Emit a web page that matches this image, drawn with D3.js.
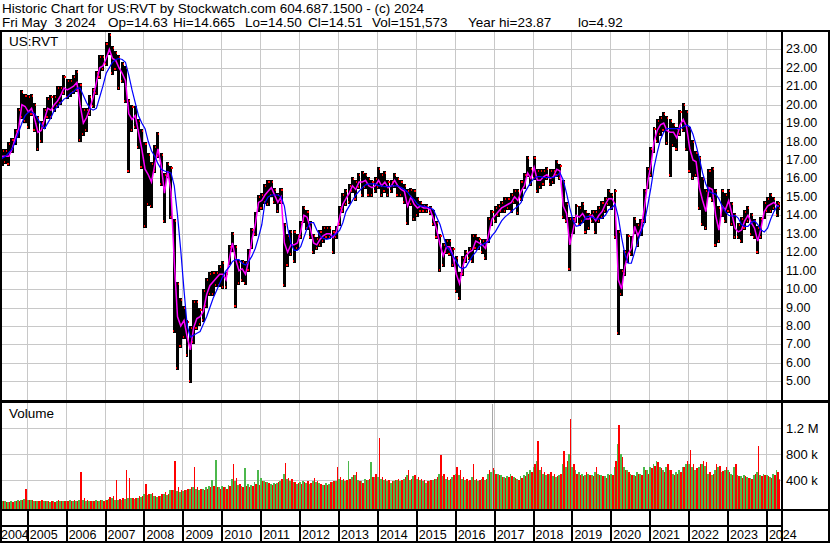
<!DOCTYPE html>
<html>
<head>
<meta charset="utf-8">
<script src="https://cdn.jsdelivr.net/npm/d3@7"></script>
<style>
  body { margin: 0; background: #fff; }
  svg { display: block; font-family: "Liberation Sans", Arial, sans-serif; }
</style>
</head>
<body>
<svg width="830" height="543"></svg>
<script>
// monthly values, Apr 2004 .. May 2024 (242 months)
var years = d3.range(2004, 2025);
var priceTicks = d3.range(5, 24);
var volTicks = [400000, 800000, 1200000];
var volTickLabels = ["400 k", "800 k", "1.2 M"];
var title = "Historic Chart for US:RVT by Stockwatch.com 604.687.1500 - (c) 2024";
var quoteFields = ["Fri May  3 2024", "Op=14.63", "Hi=14.665", "Lo=14.50", "Cl=14.51",
                   "Vol=151,573", "Year hi=23.87", "lo=4.92"];

var hi = [
  17.1, 17.6, 17.6, 18.0, 18.2, 18.7, 19.8, 20.8, 20.6,
  20.5, 20.6, 20.1, 19.4, 19.1, 19.8, 20.4, 20.5, 20.5, 21.0, 21.0, 21.6,
  21.4, 21.4, 21.6, 21.9, 21.2, 19.8, 19.8, 20.5, 20.9, 21.8, 22.7, 22.7,
  23.4, 23.87, 23.2, 22.9, 22.7, 22.3, 22.1, 20.3, 20.0, 19.9, 19.2, 18.7,
  18.0, 17.4, 16.9, 17.8, 18.5, 17.4, 16.3, 16.9, 16.7, 13.8, 10.4, 9.5,
  9.1, 8.3, 8.0, 9.4, 9.4, 9.0, 10.0, 10.6, 10.9, 11.0, 11.0, 11.3,
  11.5, 10.9, 12.4, 13.1, 12.4, 11.6, 11.6, 11.5, 12.2, 13.3, 14.2, 15.1,
  15.2, 15.7, 15.9, 15.9, 15.5, 15.2, 15.5, 13.6, 13.0, 13.2, 13.2, 13.0,
  13.7, 14.5, 14.3, 13.7, 13.0, 12.8, 13.2, 13.4, 13.4, 13.4, 13.2, 13.4,
  14.5, 15.2, 15.4, 15.7, 16.1, 15.9, 16.3, 16.4, 16.3, 16.1, 15.9, 16.1,
  16.6, 16.3, 16.4, 15.9, 15.9, 16.3, 16.1, 15.9, 15.7, 15.4, 15.5, 15.4,
  15.0, 14.8, 14.6, 14.6, 14.5, 14.3, 13.7, 13.0, 12.5, 12.7, 12.7, 12.3,
  11.8, 10.9, 11.8, 12.1, 12.3, 13.0, 13.0, 12.8, 12.7, 12.7, 13.9, 14.3,
  14.5, 14.6, 14.8, 15.0, 15.0, 15.2, 15.4, 15.4, 15.9, 16.3, 17.2, 16.6,
  17.2, 16.5, 16.5, 16.5, 16.6, 16.5, 16.5, 17.0, 16.8, 15.9, 14.7, 13.9,
  13.9, 14.6, 14.5, 14.7, 14.3, 14.1, 14.3, 14.3, 14.5, 14.8, 15.0, 15.4,
  15.2, 15.4, 13.2, 11.1, 12.1, 13.0, 12.9, 13.9, 13.6, 13.8, 15.4, 16.6,
  17.7, 18.8, 19.2, 19.4, 19.6, 19.4, 19.2, 19.0, 18.8, 19.7, 20.1, 19.7,
  18.8, 18.1, 17.5, 17.2, 16.1, 15.4, 16.5, 16.6, 15.4, 14.5, 15.4, 15.2,
  15.4, 14.7, 14.1, 13.6, 13.9, 14.3, 14.5, 14.1, 13.8, 13.4, 13.9, 14.8,
  15.0, 15.2, 15.0, 14.8, 14.7
];
var lo = [
  15.5, 16.7, 16.8, 16.7, 17.4, 17.8, 18.2, 19.2, 19.0,
  18.7, 19.4, 18.5, 17.5, 17.9, 18.7, 19.2, 19.2, 19.6, 19.8, 20.0, 20.5,
  20.3, 20.4, 20.6, 20.7, 18.0, 18.3, 18.5, 19.4, 19.8, 20.5, 21.4, 21.8,
  22.1, 22.7, 21.6, 21.8, 20.8, 21.2, 20.1, 16.3, 18.5, 18.7, 17.6, 16.5,
  13.3, 14.5, 14.4, 16.3, 17.1, 15.6, 13.6, 16.0, 13.8, 7.6, 5.6, 6.8,
  7.3, 6.3, 4.92, 7.0, 7.8, 8.0, 8.2, 9.0, 9.6, 9.6, 10.1, 10.1,
  10.0, 10.0, 11.3, 12.0, 9.0, 10.2, 10.4, 10.2, 10.9, 12.2, 12.9, 14.2,
  14.3, 14.6, 14.5, 15.0, 14.6, 14.1, 14.6, 10.1, 11.2, 11.8, 11.4, 12.1,
  12.7, 13.6, 13.2, 12.7, 11.9, 12.1, 12.3, 12.5, 12.7, 12.7, 11.9, 12.7,
  13.4, 14.1, 14.5, 14.6, 15.2, 14.8, 15.4, 15.0, 15.4, 15.0, 15.0, 15.2,
  15.4, 15.0, 15.2, 15.0, 15.2, 15.5, 15.0, 15.0, 14.6, 13.5, 14.5, 13.7,
  13.9, 14.1, 14.1, 14.1, 14.0, 13.4, 12.7, 10.9, 11.2, 11.9, 11.8, 11.2,
  9.8, 9.4, 10.7, 11.4, 11.6, 11.4, 12.1, 12.1, 11.9, 11.6, 12.5, 13.4,
  13.6, 13.9, 14.1, 14.1, 14.3, 14.1, 14.6, 14.0, 14.8, 15.4, 16.1, 15.6,
  15.9, 15.2, 15.4, 15.6, 15.9, 15.6, 15.7, 16.1, 15.9, 13.8, 13.6, 11.0,
  13.0, 13.6, 13.4, 13.6, 13.0, 13.2, 13.6, 13.0, 13.6, 13.8, 14.1, 14.5,
  14.3, 12.7, 7.5, 9.6, 10.7, 11.4, 11.8, 13.0, 12.3, 12.9, 13.6, 15.4,
  16.1, 17.4, 17.9, 18.3, 18.5, 17.8, 16.1, 17.7, 17.5, 18.3, 18.5, 17.5,
  16.3, 15.9, 16.1, 14.3, 13.4, 13.2, 15.0, 14.7, 12.3, 12.5, 13.9, 13.6,
  14.1, 13.4, 12.7, 12.7, 12.5, 13.2, 13.6, 12.9, 12.7, 11.9, 12.7, 13.8,
  14.1, 14.1, 14.3, 13.9, 14.3
];
var avgShort = [
  16.7, 17.2, 17.2, 17.2, 17.6, 18.2, 18.7, 20.0, 19.9,
  19.6, 19.8, 19.2, 18.5, 18.6, 19.2, 19.8, 19.7, 20.0, 20.2, 20.5, 20.9,
  20.8, 20.9, 21.0, 21.2, 20.0, 19.0, 19.3, 19.8, 20.4, 21.2, 22.0, 22.1,
  22.5, 23.0, 22.5, 22.4, 22.0, 21.7, 21.3, 19.5, 19.2, 19.4, 18.5, 17.6,
  16.5, 16.2, 15.8, 16.7, 17.6, 16.7, 15.2, 16.4, 15.3, 11.5, 8.5, 8.0,
  8.3, 7.4, 6.7, 7.9, 8.4, 8.5, 8.8, 9.7, 10.2, 10.4, 10.6, 10.8,
  10.8, 10.5, 11.6, 12.5, 11.6, 11.0, 11.1, 10.8, 11.6, 12.7, 13.5, 14.7,
  14.8, 15.1, 15.3, 15.5, 15.1, 14.7, 15.0, 12.5, 12.0, 12.4, 12.4, 12.5,
  13.1, 14.0, 13.9, 13.3, 12.5, 12.4, 12.7, 12.9, 13.0, 13.0, 12.8, 13.1,
  13.9, 14.6, 14.9, 15.2, 15.6, 15.4, 15.8, 15.8, 15.9, 15.6, 15.5, 15.6,
  15.9, 15.6, 15.8, 15.5, 15.6, 15.9, 15.6, 15.4, 15.3, 14.5, 15.0, 14.6,
  14.4, 14.5, 14.4, 14.4, 14.3, 13.8, 13.2, 12.4, 11.8, 12.3, 12.3, 11.8,
  10.8, 10.3, 11.2, 11.8, 12.0, 12.1, 12.6, 12.5, 12.4, 12.2, 13.0, 13.8,
  14.0, 14.2, 14.4, 14.5, 14.6, 14.7, 15.0, 14.8, 15.3, 15.6, 16.3, 16.0,
  16.6, 15.9, 15.9, 16.1, 16.2, 16.0, 16.1, 16.5, 16.4, 14.5, 14.1, 12.4,
  13.2, 14.0, 13.9, 14.1, 13.8, 13.8, 14.0, 13.7, 14.0, 14.2, 14.6, 14.9,
  14.9, 14.6, 10.5, 10.0, 11.2, 11.9, 12.2, 13.4, 12.9, 13.3, 14.4, 15.8,
  16.7, 18.0, 18.6, 18.9, 19.0, 18.6, 18.5, 18.5, 18.2, 18.9, 19.2, 18.8,
  17.6, 17.0, 16.9, 15.5, 14.8, 14.2, 15.5, 15.4, 14.0, 13.2, 14.5, 14.3,
  14.8, 14.1, 13.3, 13.1, 13.2, 13.7, 14.0, 13.6, 13.3, 12.6, 13.3, 14.2,
  14.5, 14.6, 14.7, 14.5, 14.5
];
var avgLong = [
  17.0, 17.1, 17.2, 17.4, 17.6, 18.0, 18.5, 19.0, 19.4,
  19.6, 19.6, 19.5, 19.2, 18.9, 18.7, 19.0, 19.3, 19.7, 19.9, 20.1, 20.3,
  20.4, 20.6, 20.7, 20.9, 20.9, 20.5, 20.1, 19.8, 19.7, 19.8, 20.4, 21.0,
  21.7, 22.0, 22.3, 22.45, 22.5, 22.45, 22.3, 21.6, 20.8, 20.1, 19.4, 19.0,
  18.7, 18.0, 17.5, 17.2, 16.8, 16.5, 16.4, 16.35, 16.3, 15.6, 14.0, 12.1,
  9.9, 8.0, 7.4, 7.5, 7.6, 7.7, 8.1, 8.5, 9.0, 9.5, 9.9, 10.3,
  10.7, 11.0, 11.2, 11.5, 11.6, 11.6, 11.4, 11.3, 11.5, 11.8, 12.2, 12.8,
  13.5, 14.7, 15.0, 15.1, 15.1, 15.1, 15.0, 14.5, 13.3, 12.5, 12.1, 12.1,
  12.3, 12.8, 13.3, 13.6, 13.6, 13.2, 12.9, 12.75, 12.7, 12.75, 12.9, 13.0,
  13.2, 13.6, 14.2, 14.5, 14.8, 15.1, 15.3, 15.5, 15.65, 15.7, 15.7, 15.7,
  15.6, 15.6, 15.55, 15.55, 15.6, 15.6, 15.6, 15.5, 15.4, 15.25, 15.0, 14.85,
  14.6, 14.5, 14.5, 14.45, 14.4, 14.3, 13.9, 13.5, 12.9, 12.3, 12.1, 11.8,
  11.5, 11.2, 11.1, 11.2, 11.5, 11.8, 12.0, 12.3, 12.4, 12.5, 12.6, 12.9,
  13.1, 13.4, 13.7, 13.9, 14.05, 14.2, 14.35, 14.5, 14.7, 15.2, 15.5, 15.8,
  16.0, 16.1, 16.1, 16.05, 16.05, 16.05, 16.05, 16.15, 16.3, 15.9, 15.2, 14.4,
  13.7, 13.4, 13.45, 13.6, 13.9, 13.95, 13.9, 13.8, 13.8, 13.85, 14.0, 14.3,
  14.4, 14.6, 13.9, 12.8, 11.9, 11.4, 11.4, 12.0, 12.6, 13.1, 13.6, 14.5,
  15.5, 16.6, 17.4, 18.1, 18.5, 18.7, 18.7, 18.7, 18.7, 18.7, 18.8, 18.9,
  18.8, 18.4, 17.8, 17.1, 16.3, 15.7, 15.3, 15.2, 15.15, 14.9, 14.5, 14.2,
  14.0, 13.95, 14.0, 13.85, 13.5, 13.4, 13.4, 13.6, 13.7, 13.5, 13.2, 13.1,
  13.3, 13.8, 14.2, 14.5, 14.5
];
// volume, thousands of shares: biggest up-day and down-day in each month
var volUp = [
  160, 80, 70, 60, 70, 80, 90, 100, 110,
  100, 90, 80, 80, 70, 80, 70, 60, 80, 70, 80, 70,
  80, 90, 80, 70, 100, 90, 80, 70, 80, 90, 80, 100,
  100, 110, 120, 100, 90, 100, 110, 130, 120, 110, 130, 140,
  190, 170, 180, 150, 140, 160, 190, 170, 240, 250, 230, 220,
  230, 250, 270, 290, 270, 240, 260, 290, 310, 400, 712, 290,
  310, 290, 320, 410, 390, 330, 310, 593, 340, 330, 370, 557,
  440, 390, 370, 340, 360, 350, 390, 490, 410, 390, 370, 340,
  370, 390, 350, 340, 390, 370, 350, 330, 350, 340, 370, 390,
  420, 400, 380, 700, 450, 480, 400, 380, 420, 400, 680, 450,
  450, 420, 400, 380, 360, 380, 400, 380, 420, 480, 400, 460,
  420, 400, 380, 360, 380, 400, 420, 500, 460, 420, 400, 450,
  500, 480, 420, 400, 380, 450, 400, 380, 420, 400, 500, 520,
  550, 500, 480, 450, 470, 500, 450, 420, 460, 480, 520, 550,
  600, 700, 550, 500, 480, 500, 470, 450, 480, 650, 600, 800,
  600, 550, 520, 500, 480, 500, 480, 520, 500, 480, 460, 500,
  500, 600, 950, 800, 600, 550, 500, 480, 520, 500, 600, 550,
  600, 650, 700, 600, 550, 600, 550, 500, 520, 550, 600, 650,
  650, 600, 550, 600, 650, 620, 500, 480, 550, 600, 520, 550,
  550, 500, 600, 480, 460, 480, 450, 440, 480, 520, 480, 500,
  480, 450, 500, 560, 420
];
var volDown = [
  420, 70, 60, 60, 60, 70, 80, 90, 260,
  90, 100, 80, 70, 90, 70, 80, 70, 60, 90, 70, 80,
  80, 70, 90, 80, 530, 130, 90, 80, 70, 80, 90, 80,
  90, 140, 150, 400, 110, 120, 557, 433, 130, 120, 150, 160,
  340, 190, 200, 160, 150, 180, 220, 190, 250, 696, 290, 250,
  250, 270, 290, 608, 290, 270, 250, 270, 290, 310, 290, 270,
  290, 270, 310, 650, 440, 340, 290, 310, 290, 310, 340, 320,
  390, 370, 350, 330, 340, 370, 410, 670, 440, 410, 370, 350,
  340, 370, 390, 350, 440, 390, 340, 320, 330, 370, 390, 600,
  450, 420, 400, 420, 480, 520, 380, 360, 400, 420, 450, 500,
  1050, 450, 420, 400, 380, 400, 420, 400, 450, 550, 420, 480,
  450, 420, 400, 380, 400, 420, 450, 790, 500, 450, 420, 480,
  600, 550, 450, 420, 400, 650, 420, 400, 450, 420, 550, 580,
  500, 480, 450, 430, 450, 470, 430, 400, 440, 460, 500, 530,
  650, 1000, 600, 520, 500, 520, 490, 470, 500, 850, 700, 1350,
  650, 500, 480, 470, 520, 480, 460, 600, 480, 460, 440, 480,
  480, 700, 1250, 750, 550, 520, 480, 460, 500, 480, 550, 500,
  580, 620, 680, 580, 520, 650, 560, 480, 500, 520, 600, 700,
  870, 650, 580, 650, 700, 680, 520, 500, 650, 620, 540, 600,
  520, 480, 650, 460, 440, 460, 430, 420, 500, 930, 460, 480,
  460, 430, 480, 520, 400
];
// unchanged-close days with notable volume (thousands)
var flatMonths = ["2016-12"];
var flatVol = [1580];

var months = d3.timeMonth.range(new Date(2004, 3, 1), new Date(2024, 5, 1));
var lastDay = new Date(2024, 4, 4);

var rows = months.map(function(m, i) {
  var end = d3.timeMonth.offset(m, 1);
  if (end > lastDay) end = lastDay;
  return {
    start: m, end: end, mid: new Date((+m + +end) / 2),
    hi: hi[i], lo: lo[i], ma1: avgShort[i], ma2: avgLong[i],
    up: volUp[i] * 1000, down: volDown[i] * 1000
  };
});
var parseMonth = d3.timeParse("%Y-%m");
var flatRows = flatMonths.map(function(m, i) {
  var s = parseMonth(m);
  return { start: s, end: d3.timeMonth.offset(s, 1), v: flatVol[i] * 1000 };
});

var svg = d3.select("svg");
var W = 830;
var left = 2, right = 781;
var priceTop = 32, priceBottom = 400;
var volTop = 403, volBottom = 509;

var x = d3.scaleTime()
  .domain([new Date(2004, 0, 1), new Date(2025, 0, 1)])
  .range([-12.2, 804.9]);
var y = d3.scaleLinear().domain([5, 23]).range([381.3, 49.3]);
var yv = d3.scaleLinear().domain([0, 1200000]).range([506, 428.3]);

svg.append("rect").attr("width", W).attr("height", 543).attr("fill", "#fff");

svg.append("clipPath").attr("id", "clipP")
  .append("rect").attr("x", left).attr("y", priceTop).attr("width", right - left).attr("height", priceBottom - priceTop);
svg.append("clipPath").attr("id", "clipV")
  .append("rect").attr("x", left).attr("y", volTop).attr("width", right - left).attr("height", volBottom - volTop);

var grid = svg.append("g").attr("stroke", "#c8c8c8").attr("stroke-width", 1).attr("shape-rendering", "crispEdges");
// horizontal price grid
grid.selectAll(".hp").data(priceTicks).enter().append("line")
  .attr("x1", left).attr("x2", right)
  .attr("y1", function(d) { return Math.round(y(d)) + 0.5; })
  .attr("y2", function(d) { return Math.round(y(d)) + 0.5; });
// horizontal volume grid
grid.selectAll(".hv").data(volTicks).enter().append("line")
  .attr("x1", left).attr("x2", right)
  .attr("y1", function(d) { return Math.round(yv(d)) + 0.5; })
  .attr("y2", function(d) { return Math.round(yv(d)) + 0.5; });
// vertical year grid
var yearStarts = years.slice(1).map(function(yr) { return new Date(yr, 0, 1); });
grid.selectAll(".vg").data(yearStarts).enter().append("line")
  .attr("x1", function(d) { return Math.round(x(d)) + 0.5; })
  .attr("x2", function(d) { return Math.round(x(d)) + 0.5; })
  .attr("y1", priceTop).attr("y2", volBottom);

// price bars
var pg = svg.append("g").attr("clip-path", "url(#clipP)").attr("shape-rendering", "crispEdges");
pg.selectAll(".bar").data(rows).enter().append("rect")
  .attr("x", function(d) { return x(d.start); })
  .attr("width", function(d) { return Math.max(1, x(d.end) - x(d.start) - 0.2); })
  .attr("y", function(d) { return y(d.hi); })
  .attr("height", function(d) { return Math.max(1, y(d.lo) - y(d.hi)); })
  .attr("fill", "#000");
pg.selectAll(".tickHi").data(rows).enter().append("rect")
  .attr("x", function(d) { return x(d.mid) + 0.3; })
  .attr("width", 1.2)
  .attr("y", function(d) { return y(d.hi) + 1; })
  .attr("height", 2).attr("fill", "#ff0000");
pg.selectAll(".tickLo").data(rows).enter().append("rect")
  .attr("x", function(d) { return x(d.start) + 0.3; })
  .attr("width", 1.2)
  .attr("y", function(d) { return y(d.lo) - 3; })
  .attr("height", 2).attr("fill", "#ff0000");

var lineLong = d3.line()
  .x(function(d) { return x(d.mid); })
  .y(function(d) { return y(d.ma2); });
var lineShort = d3.line()
  .x(function(d) { return x(d.mid); })
  .y(function(d) { return y(d.ma1); });
pg.append("path").datum(rows).attr("d", lineShort)
  .attr("fill", "none").attr("stroke", "#ff00ff").attr("stroke-width", 1.5).attr("shape-rendering", "auto");
pg.append("path").datum(rows).attr("d", lineLong)
  .attr("fill", "none").attr("stroke", "#0000ff").attr("stroke-width", 1.2).attr("shape-rendering", "auto");

// volume bars
var vg = svg.append("g").attr("clip-path", "url(#clipV)").attr("shape-rendering", "crispEdges");
vg.selectAll(".vu").data(rows).enter().append("rect")
  .attr("x", function(d) { return x(d.start); })
  .attr("width", function(d) { return Math.max(1, (x(d.end) - x(d.start)) * 0.55); })
  .attr("y", function(d) { return yv(d.up); })
  .attr("height", function(d) { return volBottom - yv(d.up); })
  .attr("fill", "#4cb84c");
vg.selectAll(".vd").data(rows).enter().append("rect")
  .attr("x", function(d) { return x(d.start) + (x(d.end) - x(d.start)) * 0.55; })
  .attr("width", function(d) { return Math.max(1, (x(d.end) - x(d.start)) * 0.45); })
  .attr("y", function(d) { return yv(d.down); })
  .attr("height", function(d) { return volBottom - yv(d.down); })
  .attr("fill", "#ff0000");
vg.selectAll(".vf").data(flatRows).enter().append("rect")
  .attr("x", function(d) { return x(d.end) - 1.5; })
  .attr("width", 1.2)
  .attr("y", function(d) { return yv(d.v); })
  .attr("height", function(d) { return volBottom - yv(d.v); })
  .attr("fill", "#a8a8a8");

// frame lines
var frame = svg.append("g").attr("fill", "#000").attr("shape-rendering", "crispEdges");
frame.append("rect").attr("x", 0).attr("y", 30).attr("width", W).attr("height", 2);
frame.append("rect").attr("x", 0).attr("y", 400).attr("width", W).attr("height", 3);
frame.append("rect").attr("x", 0).attr("y", 509).attr("width", W).attr("height", 2);
frame.append("rect").attr("x", 0).attr("y", 525).attr("width", right).attr("height", 2);
frame.append("rect").attr("x", 0).attr("y", 541).attr("width", W).attr("height", 2);
frame.append("rect").attr("x", 0).attr("y", 30).attr("width", 2).attr("height", 513);
frame.append("rect").attr("x", right).attr("y", 30).attr("width", 2).attr("height", 513);
frame.append("rect").attr("x", 828).attr("y", 30).attr("width", 2).attr("height", 513);
frame.selectAll(".yd").data(yearStarts).enter().append("rect")
  .attr("x", function(d) { return Math.round(x(d)); })
  .attr("y", 509).attr("width", 1.5).attr("height", 33);

// texts
var txt = svg.append("g").attr("fill", "#000");
txt.append("text").attr("x", 2).attr("y", 13).attr("font-size", 13.5).text(title);
var quoteX = [2, 108, 173, 245, 308, 372, 468, 578];
var q = txt.append("text").attr("y", 27).attr("font-size", 13.5);
q.selectAll("tspan").data(quoteFields).enter().append("tspan")
  .attr("x", function(d, i) { return quoteX[i]; })
  .text(function(d) { return d.replace(/  /g, " \u00a0"); });
txt.append("text").attr("x", 9).attr("y", 46).attr("font-size", 13.5).text("US:RVT");
txt.append("text").attr("x", 9).attr("y", 418).attr("font-size", 13.5).text("Volume");

txt.selectAll(".pl").data(priceTicks).enter().append("text")
  .attr("x", 786).attr("y", function(d) { return y(d) + 4; })
  .attr("font-size", 12.5)
  .text(function(d) { return d3.format(".2f")(d); });
txt.selectAll(".vl").data(volTicks).enter().append("text")
  .attr("x", 786).attr("y", function(d) { return yv(d) + 5; })
  .attr("font-size", 13)
  .text(function(d, i) { return volTickLabels[i]; });
txt.selectAll(".yl").data(years).enter().append("text")
  .attr("x", function(d) { return Math.max(1, x(new Date(d, 0, 1)) + 3); })
  .attr("y", 539).attr("font-size", 12.5)
  .text(function(d) { return d; });
</script>
</body>
</html>
